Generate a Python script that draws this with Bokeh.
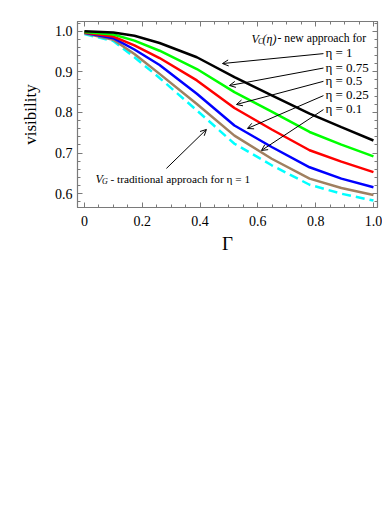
from bokeh.plotting import figure
from bokeh.models import Range1d, FixedTicker, LinearAxis, Arrow, OpenHead, Label, CustomJSTickFormatter
from bokeh.embed import file_html
from bokeh.resources import INLINE

# ---- data ----
gamma = [0.0, 0.1, 0.173, 0.26, 0.389, 0.519, 0.648, 0.779, 0.889, 1.0]
v_c_eta_1    = [1.000, 0.997, 0.989, 0.971, 0.936, 0.887, 0.842, 0.797, 0.764, 0.731]
v_c_eta_075  = [0.998, 0.992, 0.977, 0.952, 0.907, 0.850, 0.802, 0.752, 0.721, 0.692]
v_c_eta_05   = [0.997, 0.987, 0.965, 0.934, 0.879, 0.811, 0.758, 0.707, 0.679, 0.653]
v_c_eta_025  = [0.996, 0.983, 0.955, 0.917, 0.846, 0.768, 0.715, 0.665, 0.637, 0.616]
v_c_eta_01   = [0.995, 0.979, 0.944, 0.895, 0.821, 0.743, 0.686, 0.637, 0.614, 0.597]
v_g_eta_1    = [0.993, 0.976, 0.936, 0.885, 0.805, 0.723, 0.670, 0.622, 0.600, 0.583]

eta_labels = ["η = 1", "η = 0.75", "η = 0.5", "η = 0.25", "η = 0.1"]
x_ticks = [0.0, 0.2, 0.4, 0.6, 0.8, 1.0]
y_ticks = [0.6, 0.7, 0.8, 0.9, 1.0]
x_minor = [round(0.05 * i, 3) for i in range(0, 21)]
y_minor = [round(0.56 + 0.02 * i, 3) for i in range(0, 24)]

FONT = "Liberation Serif"
GREY = "#7a7a7a"

p = figure(width=382, height=268,
           x_range=Range1d(-0.024, 1.014), y_range=Range1d(0.566, 1.024),
           output_backend="svg", toolbar_location=None,
           min_border_left=77, min_border_top=21, min_border_right=5, min_border_bottom=61,
           background_fill_color="white", border_fill_color="white")
p.grid.visible = False
p.outline_line_color = GREY
p.outline_line_width = 1.2

fmt = CustomJSTickFormatter(code="return Math.abs(tick) < 1e-9 ? '0' : tick.toFixed(1);")

def style_axis(ax, ticks, minor):
    ax.ticker = FixedTicker(ticks=ticks, minor_ticks=minor)
    ax.axis_line_color = GREY
    ax.major_tick_line_color = GREY
    ax.minor_tick_line_color = GREY
    ax.major_tick_in = 5
    ax.major_tick_out = 0
    ax.minor_tick_in = 3
    ax.minor_tick_out = 0
    ax.major_label_text_font = FONT
    ax.major_label_text_font_size = "14px"
    ax.major_label_text_color = "black"
    ax.axis_label_text_font = FONT
    ax.axis_label_text_font_style = "normal"
    ax.axis_label_text_color = "black"

xa = p.xaxis[0]
style_axis(xa, x_ticks, x_minor)
xa.formatter = fmt
xa.major_label_standoff = 8
xa.axis_label = "Γ"
xa.axis_label_text_font_size = "19px"
xa.axis_label_standoff = 4

ya = p.yaxis[0]
style_axis(ya, y_ticks, y_minor)
ya.formatter = fmt
ya.major_label_standoff = 5
ya.axis_label = "visibility"
ya.axis_label_text_font_size = "17px"
ya.axis_label_standoff = 12

blank = CustomJSTickFormatter(code="return ''")
top = LinearAxis(formatter=blank)
style_axis(top, x_ticks, x_minor)
top.major_label_standoff = 0
p.add_layout(top, "above")
right = LinearAxis(formatter=blank)
style_axis(right, y_ticks, y_minor)
right.major_label_standoff = 0
p.add_layout(right, "right")

# ---- curves ----
p.line(gamma, v_g_eta_1, color="#00FFFF", line_width=2.5, line_dash="9 5")
p.line(gamma, v_c_eta_01, color="#A08060", line_width=2.5)
p.line(gamma, v_c_eta_025, color="#0000FF", line_width=2.5)
p.line(gamma, v_c_eta_05, color="#FF0000", line_width=2.5)
p.line(gamma, v_c_eta_075, color="#00FF00", line_width=2.5)
p.line(gamma, v_c_eta_1, color="black", line_width=2.5)

# ---- annotations ----
lab_x = 0.834
lab_y = [0.9469, 0.9114, 0.8787, 0.8435, 0.8091]
arr_start_x = 0.827
arr_end = [(0.4775, 0.9205), (0.5017, 0.8664), (0.526, 0.8197), (0.564, 0.7606), (0.6125, 0.7065)]
for t, ly, (ex, ey) in zip(eta_labels, lab_y, arr_end):
    p.add_layout(Label(x=lab_x, y=ly, text=t, text_font=FONT, text_font_size="13px",
                       text_baseline="middle", text_align="left", text_color="black"))
    p.add_layout(Arrow(x_start=arr_start_x, y_start=ly - 0.002, x_end=ex, y_end=ey,
                       line_width=1, line_color="black",
                       end=OpenHead(size=6, line_width=1, line_color="black")))

def multi_label(x, y, parts):
    for text, dx, dy, size, style in parts:
        p.add_layout(Label(x=x, y=y, x_offset=dx, y_offset=dy, text=text, text_font=FONT,
                           text_font_size=size, text_font_style=style,
                           text_baseline="middle", text_align="left", text_color="black"))

multi_label(0.578, 0.982, [("V", 0, 0, "12px", "italic"),
                           ("C", 6.5, -3, "8px", "italic"),
                           ("(η)", 11, 0, "12px", "italic"),
                           ("- new approach for", 26, 0, "11.7px", "normal")])

multi_label(0.038, 0.637, [("V", 0, 0, "12px", "italic"),
                           ("G", 6.5, -3, "8px", "italic"),
                           ("- traditional approach for η = 1", 15, 0, "11.3px", "normal")])

p.add_layout(Arrow(x_start=0.2837, y_start=0.6622, x_end=0.4221, y_end=0.7582,
                   line_width=1, line_color="black",
                   end=OpenHead(size=6, line_width=1, line_color="black")))

open("out.html", "w").write(file_html(p, INLINE))
